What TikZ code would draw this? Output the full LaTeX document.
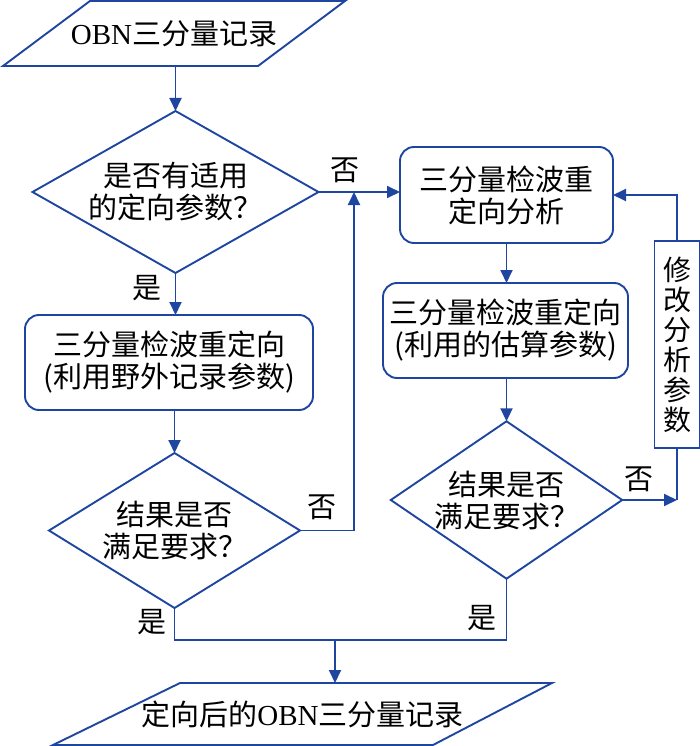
\documentclass[tikz,border=0pt]{standalone}
\usepackage{fontspec}
\setmainfont{Liberation Serif}
\newfontfamily\cjk{Noto Sans CJK SC}
\usetikzlibrary{shapes.geometric,arrows.meta,calc}
\definecolor{fc}{RGB}{30,70,160}
\begin{document}
\begin{tikzpicture}[x=1pt,y=-1pt,
  every node/.style={font=\cjk\fontsize{29}{32}\selectfont, text=black},
  ln/.style={draw=fc, line width=1.9pt},
  arr/.style={ln, -{Triangle[length=13pt,width=12pt]}},
  dia/.style={ln, shape=diamond, inner sep=0pt, outer sep=0pt, align=center},
  box/.style={ln, rounded corners=14pt, align=center, inner sep=0pt, outer sep=0pt},
  plain/.style={inner sep=0pt, outer sep=0pt, align=center}]
\useasboundingbox (0,0) rectangle (700,746);

% input parallelogram
\node[plain, minimum width=342pt, minimum height=65pt] (in) at (174,33.5) {{\rmfamily OBN}三分量记录};
\draw[ln] (in.south west) -- ($(in.north west)+(87,0)$) -- (in.north east) -- ($(in.south east)+(-87,0)$) -- cycle;

% decisions and boxes
\node[dia, minimum width=286pt, minimum height=162pt, aspect=1.77] (d1) at (175.5,192) {是否有适用\\的定向参数？};
\node[box, minimum width=288pt, minimum height=95pt] (b1) at (169,362.5) {三分量检波重定向\\(利用野外记录参数)};
\node[dia, minimum width=251pt, minimum height=155pt, aspect=1.62] (d2) at (174.5,530.5) {结果是否\\满足要求？};

\node[box, minimum width=213pt, minimum height=96pt] (r1) at (506.5,195) {三分量检波重\\定向分析};
\node[box, minimum width=245pt, minimum height=95pt] (r2) at (505.5,330.5) {三分量检波重定向\\(利用的估算参数)};
\node[dia, minimum width=227pt, minimum height=154pt, aspect=1.47] (d3) at (506.5,500) {结果是否\\满足要求？};

\node[ln, plain, minimum width=45pt, minimum height=207pt, font=\cjk\fontsize{28}{30}\selectfont] (fix) at (677,344.5) {修\\改\\分\\析\\参\\数};

% output parallelogram
\node[plain, minimum width=499pt, minimum height=62pt] (out) at (302.5,714) {定向后的{\rmfamily OBN}三分量记录};
\draw[ln] (out.south west) -- ($(out.north west)+(127,0)$) -- (out.north east) -- ($(out.south east)+(-119,0)$) -- cycle;

% labels
\node (l1) at (345,170) {否};
\node (l2) at (147,288) {是};
\node (l3) at (322,507) {否};
\node (l4) at (639,479) {否};
\node (l5) at (482,618) {是};
\node (l6) at (152,622) {是};

% helper coordinates
\coordinate (jn) at (354,0);
\coordinate (m) at (335,640);

% connectors
\draw[arr] (in.south -| d1.north) -- (d1.north);
\draw[arr] (d1.south) -- (d1.south |- b1.north);
\draw[arr] (b1.south -| d2.north) -- (d2.north);
\draw[arr] (d1.east) -- (d1.east -| r1.west);
\draw[arr] (d2.east) -- (d2.east -| jn) -- (d1.east -| jn);
\draw[arr] (r1.south) -- (r1.south |- r2.north);
\draw[arr] (r2.south -| d3.north) -- (d3.north);
\draw[arr] (d3.east) -- (d3.east -| fix.south);
\draw[ln] (d3.east -| fix.south) -- (fix.south);
\draw[arr] (fix.north) |- (r1.east);
\draw[ln] (d2.south) -- (d2.south |- m) -- (d3.south |- m) -- (d3.south);
\draw[arr] (m) -- (m |- out.north);
\end{tikzpicture}
\end{document}
